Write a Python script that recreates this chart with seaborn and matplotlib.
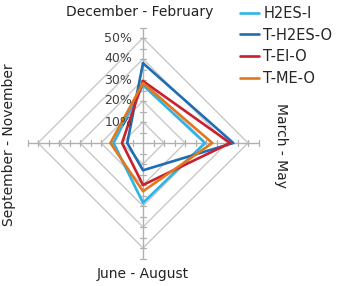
import numpy as np
import pandas as pd
import matplotlib
matplotlib.use("Agg")
import matplotlib.pyplot as plt
import seaborn as sns

seasons = ["December - February", "March - May", "June - August", "September - November"]
series_names = ["H2ES-I", "T-H2ES-O", "T-EI-O", "T-ME-O"]
h2es_i = [27.5, 29.5, 28.5, 14.0]
t_h2es_o = [38.0, 43.0, 13.0, 7.5]
t_ei_o = [29.5, 41.5, 20.0, 10.0]
t_me_o = [28.5, 33.0, 23.0, 15.5]
tick_values = [10, 20, 30, 40, 50]
tick_labels = ["10%", "20%", "30%", "40%", "50%"]
colors = ["#2db4e6", "#1f6db2", "#c8202c", "#e2771d"]

sns.set_style("white")
plt.rcParams['font.family'] = ['DejaVu Sans']

angles = np.deg2rad([90, 0, -90, 180])

rows = []
for name, vals in zip(series_names, [h2es_i, t_h2es_o, t_ei_o, t_me_o]):
    for k in list(range(4)) + [0]:
        rows.append({"series": name, "order": len(rows),
                     "x": vals[k] * np.cos(angles[k]),
                     "y": vals[k] * np.sin(angles[k])})
df = pd.DataFrame(rows)

W, H = 343, 286
fig = plt.figure(figsize=(W / 100, H / 100), dpi=100)
cx, cy, half = 143, 143, 126
ax = fig.add_axes([(cx - half) / W, (H - cy - half) / H, 2 * half / W, 2 * half / H])
ax.set_xlim(-60, 60)
ax.set_ylim(-60, 60)
ax.set_aspect("equal")
ax.axis("off")

# diamond grid
for r in tick_values:
    gx = [r * np.cos(a) for a in angles] + [r * np.cos(angles[0])]
    gy = [r * np.sin(a) for a in angles] + [r * np.sin(angles[0])]
    ax.plot(gx, gy, color="#c8c8c8", lw=1.0, zorder=1)

# spokes with tick marks
amax = 55
for a in angles:
    ax.plot([0, amax * np.cos(a)], [0, amax * np.sin(a)], color="#b0b0b0", lw=1.0, zorder=1)
    px, py = -np.sin(a), np.cos(a)
    for t in np.arange(5, amax + 0.1, 5):
        bx, by = t * np.cos(a), t * np.sin(a)
        ax.plot([bx - 1.4 * px, bx + 1.4 * px], [by - 1.4 * py, by + 1.4 * py],
                color="#b0b0b0", lw=0.9, zorder=1)

sns.lineplot(data=df, x="x", y="y", hue="series", hue_order=series_names,
             palette=colors, sort=False, estimator=None, units="series",
             lw=1.9, ax=ax, zorder=3)

for v, lab in zip(tick_values, tick_labels):
    ax.text(-5.2, v, lab, ha="right", va="center", fontsize=9, color="#404040", zorder=4)

ax.text(-1.5, 62.5, seasons[0], ha="center", va="center", fontsize=10, color="#222222", clip_on=False)
ax.text(65.5, -1, seasons[1], ha="center", va="center", rotation=-90, fontsize=10, color="#222222", clip_on=False)
ax.text(0, -62.5, seasons[2], ha="center", va="center", fontsize=10, color="#222222", clip_on=False)
ax.text(-64, -1, seasons[3], ha="center", va="center", rotation=90, fontsize=10, color="#222222", clip_on=False)

handles, labels = ax.get_legend_handles_labels()
ax.legend(handles, labels, loc="upper left", bbox_to_anchor=(240 / W, 1 - 6 / H),
          bbox_transform=fig.transFigure, frameon=False, borderpad=0, borderaxespad=0,
          handlelength=1.3, handletextpad=0.3, labelspacing=0.45, fontsize=10.5)

fig.savefig("out.png", dpi=100)
